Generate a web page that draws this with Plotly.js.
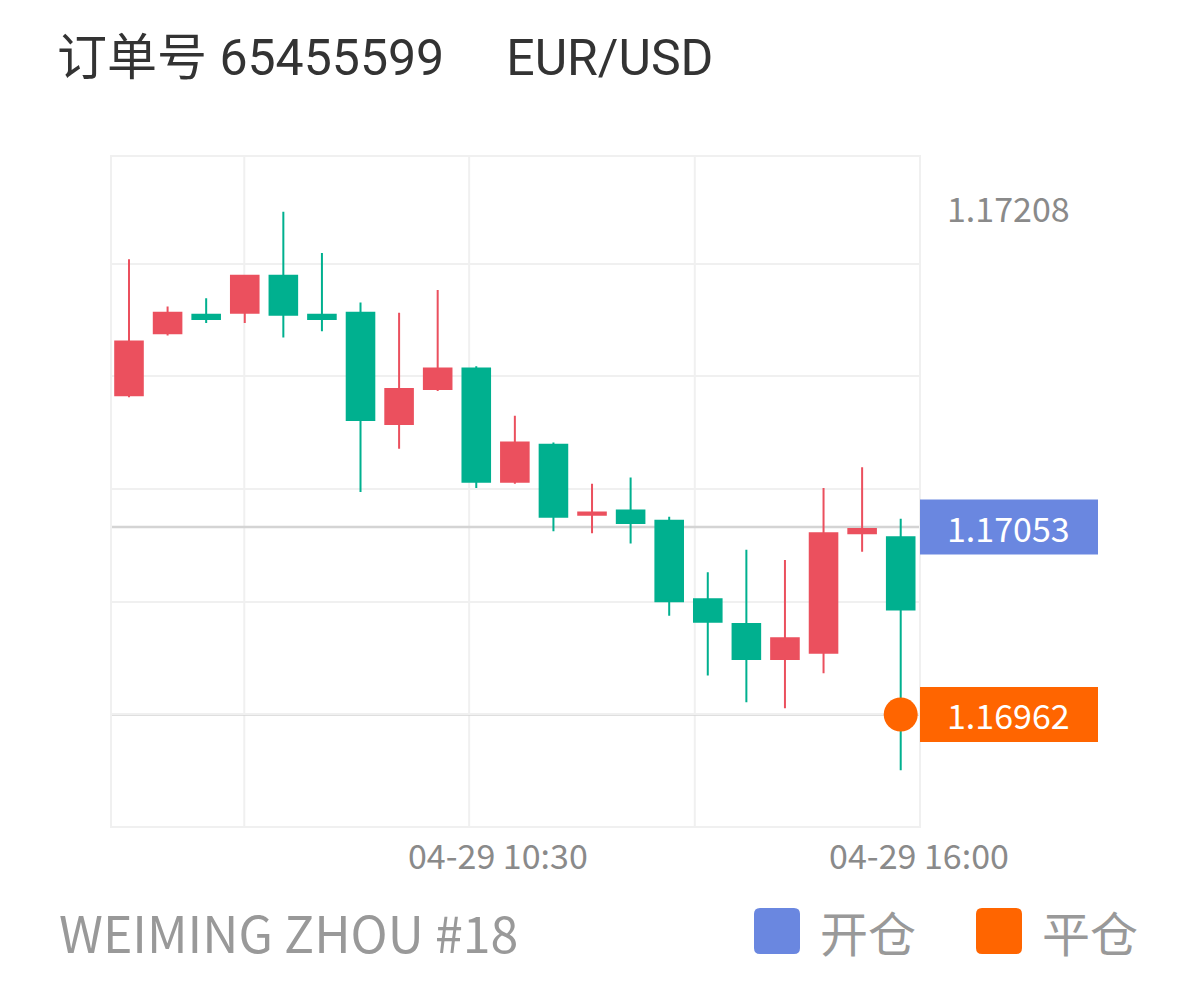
<!DOCTYPE html>
<html>
<head>
<meta charset="utf-8">
<script src="https://cdn.plot.ly/plotly-3.0.1.min.js"></script>
<style>
html,body{margin:0;padding:0;background:#ffffff;}
#chart{width:1198px;height:990px;}
</style>
</head>
<body>
<div id="chart"></div>
<script>
// ---------- data ----------
const candleIndex = [0,1,2,3,4,5,6,7,8,9,10,11,12,13,14,15,16,17,18,19,20];
const openPrices  = [1.17117,1.17147,1.17156,1.17157,1.17175,1.17156,1.17157,1.17103,1.17120,1.17130,1.17075,1.17093,1.17059,1.17061,1.17056,1.17018,1.17006,1.16989,1.16992,1.17050,1.17048];
const highPrices  = [1.17183,1.17160,1.17164,1.17175,1.17206,1.17186,1.17162,1.17157,1.17168,1.17131,1.17107,1.17094,1.17074,1.17077,1.17058,1.17031,1.17042,1.17037,1.17072,1.17082,1.17057];
const lowPrices   = [1.17116,1.17146,1.17152,1.17152,1.17145,1.17148,1.17070,1.17091,1.17119,1.17072,1.17074,1.17051,1.17050,1.17045,1.17010,1.16981,1.16968,1.16965,1.16982,1.17041,1.16935];
const closePrices = [1.17143,1.17157,1.17154,1.17175,1.17156,1.17154,1.17105,1.17120,1.17130,1.17075,1.17094,1.17058,1.17060,1.17055,1.17017,1.17007,1.16989,1.16999,1.17050,1.17052,1.17013];

const gridXPositions = [2.987, 8.816, 14.663];
const gridYValues = [1.171808, 1.171261, 1.170714, 1.170168, 1.169621];
const xTickPositions = [9.56, 20.474];
const xTickLabels = ['04-29 10:30', '04-29 16:00'];

const entryPrice = 1.17053;
const exitPrice = 1.16962;
const exitIndex = [20];
const exitValue = [1.16962];
const highLabelValue = 1.17208;

const titleText = '订单号 65455599\u00a0\u00a0\u00a0\u00a0 EUR/USD';
const footerText = 'WEIMING ZHOU #18';
const legendLabels = ['开仓', '平仓'];

// ---------- styles ----------
const RED = '#eb505e';
const GREEN = '#00b08f';
const BLUE = '#6a87e0';
const ORANGE = '#ff6500';
const GRID = '#f0f0f0';
const REFLINE = '#d4d4d4';
const CJK = '"Noto Sans CJK SC", "Noto Sans", sans-serif';

// plot area in pixels
const L = 112, T = 157, W = 807, H = 669, FIGW = 1198, FIGH = 990;
const px = v => (v - L) / W;           // pixel x -> paper x
const py = v => (T + H - v) / H;       // pixel y -> paper y

function roundRect(x0, y0, x1, y1, r) {
  const P = (x, y) => px(x) + ',' + py(y);
  return 'M' + P(x0 + r, y0) + ' L' + P(x1 - r, y0) + ' Q' + P(x1, y0) + ' ' + P(x1, y0 + r) +
         ' L' + P(x1, y1 - r) + ' Q' + P(x1, y1) + ' ' + P(x1 - r, y1) +
         ' L' + P(x0 + r, y1) + ' Q' + P(x0, y1) + ' ' + P(x0, y1 - r) +
         ' L' + P(x0, y0 + r) + ' Q' + P(x0, y0) + ' ' + P(x0 + r, y0) + ' Z';
}

const traces = [
  {
    type: 'candlestick',
    x: candleIndex,
    open: openPrices, high: highPrices, low: lowPrices, close: closePrices,
    increasing: {line: {color: RED, width: 2}, fillcolor: RED},
    decreasing: {line: {color: GREEN, width: 2}, fillcolor: GREEN},
    whiskerwidth: 0,
    hoverinfo: 'skip',
    showlegend: false
  },
  {
    type: 'scatter', mode: 'markers',
    x: exitIndex, y: exitValue,
    marker: {size: 34, color: ORANGE, line: {width: 0}},
    hoverinfo: 'skip', showlegend: false, cliponaxis: false
  }
];

const shapes = [];
gridXPositions.forEach(g => shapes.push({
  type: 'line', xref: 'x', yref: 'paper', x0: g, x1: g, y0: 0, y1: 1,
  line: {color: GRID, width: 2}, layer: 'below'
}));
[entryPrice, exitPrice].forEach(v => shapes.push({
  type: 'line', xref: 'paper', yref: 'y', x0: 0, x1: 1, y0: v, y1: v,
  line: {color: REFLINE, width: 2.5}, layer: 'below'
}));
[[entryPrice, BLUE], [exitPrice, ORANGE]].forEach(([v, c]) => shapes.push({
  type: 'rect', xref: 'paper', yref: 'y',
  xsizemode: 'pixel', xanchor: 1, x0: 1, x1: 179,
  ysizemode: 'pixel', yanchor: v, y0: -27.5, y1: 27.5,
  fillcolor: c, line: {width: 0}, layer: 'above'
}));
shapes.push({type: 'path', xref: 'paper', yref: 'paper', path: roundRect(754, 908, 800, 954, 6), fillcolor: BLUE, line: {width: 0}});
shapes.push({type: 'path', xref: 'paper', yref: 'paper', path: roundRect(976, 908, 1022, 954, 6), fillcolor: ORANGE, line: {width: 0}});

const annotations = [
  {xref: 'paper', yref: 'y', x: px(1009), y: highLabelValue, text: highLabelValue.toFixed(5),
   showarrow: false, xanchor: 'center', yanchor: 'middle', font: {family: CJK, size: 34, color: '#8a8a8a'}},
  {xref: 'paper', yref: 'y', x: px(1009), y: entryPrice, text: entryPrice.toFixed(5),
   showarrow: false, xanchor: 'center', yanchor: 'middle', font: {family: CJK, size: 34, color: '#ffffff'}},
  {xref: 'paper', yref: 'y', x: px(1009), y: exitPrice, text: exitPrice.toFixed(5),
   showarrow: false, xanchor: 'center', yanchor: 'middle', font: {family: CJK, size: 34, color: '#ffffff'}},
  {xref: 'paper', yref: 'paper', x: px(57), y: py(931), text: footerText,
   showarrow: false, xanchor: 'left', yanchor: 'middle', font: {family: CJK, size: 50, color: '#999999'}},
  {xref: 'paper', yref: 'paper', x: px(818), y: py(931), text: legendLabels[0],
   showarrow: false, xanchor: 'left', yanchor: 'middle', font: {family: CJK, size: 48, color: '#999999'}},
  {xref: 'paper', yref: 'paper', x: px(1040), y: py(931), text: legendLabels[1],
   showarrow: false, xanchor: 'left', yanchor: 'middle', font: {family: CJK, size: 48, color: '#999999'}}
];

const layout = {
  width: FIGW, height: FIGH,
  margin: {l: L, r: FIGW - L - W, t: T, b: FIGH - T - H, pad: 0},
  paper_bgcolor: '#ffffff', plot_bgcolor: '#ffffff',
  showlegend: false,
  boxgap: 0.285, boxgroupgap: 0,
  title: {
    text: titleText, xref: 'container', yref: 'container',
    x: 57 / FIGW, xanchor: 'left', y: 1 - 57 / FIGH, yanchor: 'middle',
    font: {family: 'Roboto, "Noto Sans CJK SC", sans-serif', size: 50, color: '#333333'}
  },
  xaxis: {
    type: 'linear', range: [-0.4406, 20.474], fixedrange: true,
    tickmode: 'array', tickvals: xTickPositions, ticktext: xTickLabels,
    showgrid: false, zeroline: false, ticks: '',
    showline: true, linecolor: GRID, linewidth: 2, mirror: true,
    tickfont: {family: CJK, size: 34, color: '#8a8a8a'},
    rangeslider: {visible: false}
  },
  yaxis: {
    range: [1.169079, 1.172326], fixedrange: true,
    tickmode: 'array', tickvals: gridYValues, showticklabels: false,
    showgrid: true, gridcolor: GRID, gridwidth: 2, zeroline: false, ticks: '',
    showline: true, linecolor: GRID, linewidth: 2, mirror: true
  },
  shapes: shapes,
  annotations: annotations
};

Plotly.newPlot('chart', traces, layout, {staticPlot: true, displayModeBar: false});
</script>
</body>
</html>
